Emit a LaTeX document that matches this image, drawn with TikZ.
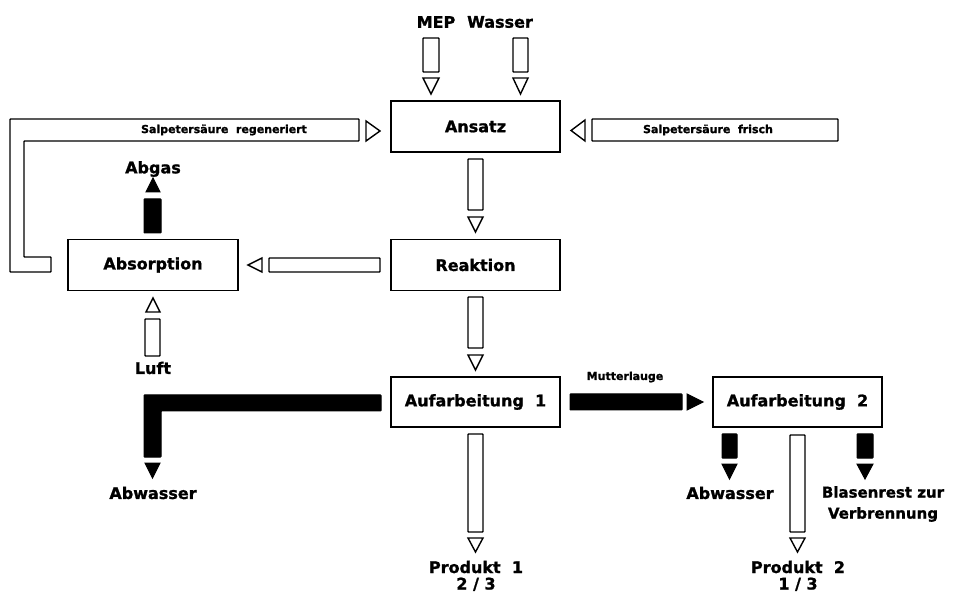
\documentclass[tikz,border=0pt]{standalone}
\usepackage{fontspec}
\setmainfont{DejaVu Sans}[BoldFeatures={FakeBold=1.2}]
\begin{document}
\begin{tikzpicture}[x=1pt,y=-1pt,
  box/.style={draw,line width=1.9pt,minimum width=169pt,minimum height=51pt,inner sep=0pt,font=\fontsize{16}{19}\selectfont\bfseries},
  lbl/.style={inner sep=0pt,font=\fontsize{16}{19}\selectfont\bfseries},
  small/.style={inner sep=0pt,font=\fontsize{11}{13}\selectfont\bfseries},
  pipe/.style={draw,line width=1.4pt,fill=white,rounded corners=0.6pt},
  blk/.style={draw,line width=1pt,fill=black,rounded corners=0.6pt},
  tri/.style={draw,line width=1.4pt,fill=white,line join=miter},
  btri/.style={draw,line width=1pt,fill=black,line join=miter}]
\useasboundingbox[fill=white] (0,0) rectangle (956,593);

% process boxes
\node[box] (ansatz) at (475.5,126.5) {Ansatz};
\node[box] (reaktion) at (475.5,265) {Reaktion};
\node[box,minimum width=170pt] (absorption) at (153,265) {Absorption};
\node[box,minimum height=50pt] (auf1) at (475.5,402) {Aufarbeitung\ \ 1};
\node[box,minimum height=50pt] (auf2) at (797.5,402) {Aufarbeitung\ \ 2};

% labels
\node[lbl] (mep) at (436,22) {MEP};
\node[lbl] (wasser) at (500,22) {Wasser};
\node[lbl] (abgas) at (153,169) {Abgas};
\node[lbl] (luft) at (153,368) {Luft};
\node[lbl] (abw1) at (153,493) {Abwasser};
\node[lbl,anchor=base] (prod1) at (476,573) {Produkt\ \ 1};
\node[lbl,anchor=base] (prod1b) at (476,589.5) {2\ /\ 3};
\node[lbl] (abw2) at (730,493) {Abwasser};
\node[lbl,anchor=base] (prod2) at (798,573) {Produkt\ \ 2};
\node[lbl,anchor=base] (prod2b) at (798,589.5) {1\ /\ 3};
\node[lbl,align=center,font=\fontsize{15}{21}\selectfont\bfseries] (blasen) at (883,504) {Blasenrest zur\\Verbrennung};
\node[small] (mutter) at (625,377) {Mutterlauge};

% MEP and Wasser feeds
\draw[pipe] (423,38) rectangle (439,72);
\draw[tri] (423,78) -- (439,78) -- (431,94) -- cycle;
\draw[pipe] (513,38) rectangle (528,72);
\draw[tri] (513,78) -- (528,78) -- (520.5,94) -- cycle;

% Ansatz -> Reaktion
\draw[pipe] (468,159) rectangle (483,210);
\draw[tri] (468,217) -- (483,217) -- (475.5,232) -- cycle;

% Salpetersaeure frisch
\draw[pipe] (592,119) rectangle (838,141);
\node[small] (frisch) at (708,130) {Salpetersäure\ \ frisch};
\draw[tri] (585,120) -- (585,141) -- (571,130.5) -- cycle;

% Salpetersaeure regeneriert (L-shaped band)
\draw[pipe] (10,119) -- (359,119) -- (359,141) -- (24,141) -- (24,257) -- (51,257) -- (51,272) -- (10,272) -- cycle;
\node[small] (regen) at (224,130) {Salpetersäure\ \ regeneriert};
\draw[tri] (366,121) -- (366,141) -- (380,131) -- cycle;

% Abgas
\draw[blk] (144,199) rectangle (161,233);
\draw[btri] (146,192) -- (160,192) -- (153,178) -- cycle;

% Reaktion -> Absorption
\draw[pipe] (269,258) rectangle (380,272);
\draw[tri] (262,258) -- (262,272) -- (248,265) -- cycle;

% Luft
\draw[tri] (146,312) -- (160,312) -- (153,298) -- cycle;
\draw[pipe] (145,319) rectangle (160,356);

% Reaktion -> Aufarbeitung 1
\draw[pipe] (468,297) rectangle (483,348);
\draw[tri] (468,355) -- (483,355) -- (475.5,370) -- cycle;

% Aufarbeitung 1 -> Abwasser (black L)
\draw[blk] (381,395) -- (144,395) -- (144,457) -- (161,457) -- (161,411) -- (381,411) -- cycle;
\draw[btri] (145,463) -- (160,463) -- (152.5,478) -- cycle;

% Aufarbeitung 1 -> Produkt 1
\draw[pipe] (468,434) rectangle (483,532);
\draw[tri] (468,538) -- (483,538) -- (475.5,552) -- cycle;

% Mutterlauge
\draw[blk] (570,394) rectangle (682,410);
\draw[btri] (687,394) -- (687,410) -- (703,402) -- cycle;

% Aufarbeitung 2 outputs
\draw[blk] (722,434) rectangle (737,458);
\draw[btri] (722,464) -- (737,464) -- (729.5,479) -- cycle;
\draw[pipe] (790,435) rectangle (805,532);
\draw[tri] (790,538) -- (805,538) -- (797.5,552) -- cycle;
\draw[blk] (857,434) rectangle (873,458);
\draw[btri] (857,464) -- (873,464) -- (865,479) -- cycle;
\end{tikzpicture}
\end{document}
